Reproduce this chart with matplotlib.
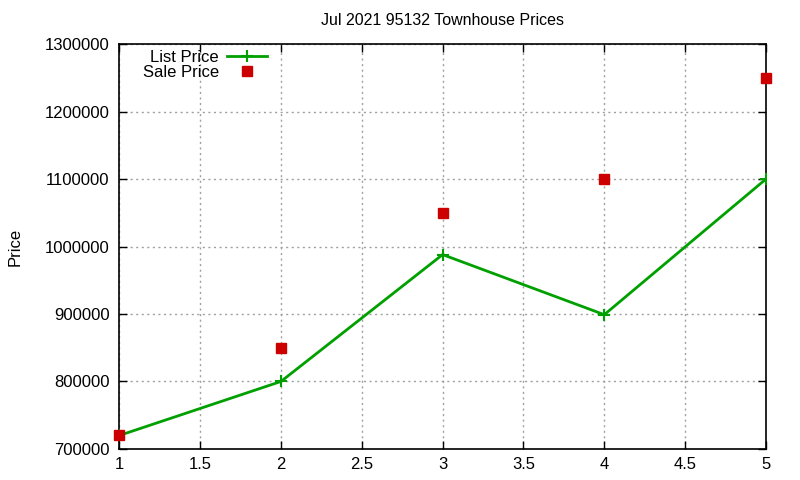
import matplotlib
matplotlib.use('Agg')
import matplotlib.pyplot as plt

# данные
x_vals = [1, 2, 3, 4, 5]
list_price = [720000, 800000, 988000, 899000, 1100000]
sale_price = [720000, 850000, 1050000, 1100000, 1250000]

plt.rcParams['font.family'] = ['Liberation Sans', 'DejaVu Sans']
plt.rcParams['font.size'] = 12

fig = plt.figure(figsize=(8, 4.8), dpi=100)
ax = fig.add_axes([0.149, 0.0646, 0.8085, 0.8437])

ax.plot(x_vals, list_price, color='#00a000', linewidth=2, marker='+',
        markersize=8, markeredgewidth=1.5, label='List Price', zorder=3)
ax.plot(x_vals, sale_price, linestyle='none', color='#cc0000', marker='s',
        markersize=7, label='Sale Price', zorder=4, clip_on=False)

ax.set_xlim(1, 5)
ax.set_ylim(700000, 1300000)
ax.set_xticks([1, 1.5, 2, 2.5, 3, 3.5, 4, 4.5, 5])
ax.set_xticklabels(['1', '1.5', '2', '2.5', '3', '3.5', '4', '4.5', '5'])
ax.set_yticks(range(700000, 1300001, 100000))
ax.set_yticklabels([str(v) for v in range(700000, 1300001, 100000)])

ax.grid(True, color='#a0a0a0', linestyle=(0, (1.5, 2.5)), linewidth=1)
ax.tick_params(direction='in', top=True, right=True, length=6, width=1)
ax.tick_params(axis='x', pad=6)
ax.tick_params(axis='y', pad=7)
for s in ax.spines.values():
    s.set_linewidth(1.2)

ax.set_ylabel('Price', labelpad=16)
ax.set_title('Jul 2021 95132 Townhouse Prices', fontsize=11.5, pad=14)

ax.legend(loc='upper right', bbox_to_anchor=(0.247, 1.015), markerfirst=False,
          frameon=False, handlelength=2.4, borderaxespad=0.3,
          labelspacing=0.0, handletextpad=0.5)

plt.savefig('out.png', dpi=100)
